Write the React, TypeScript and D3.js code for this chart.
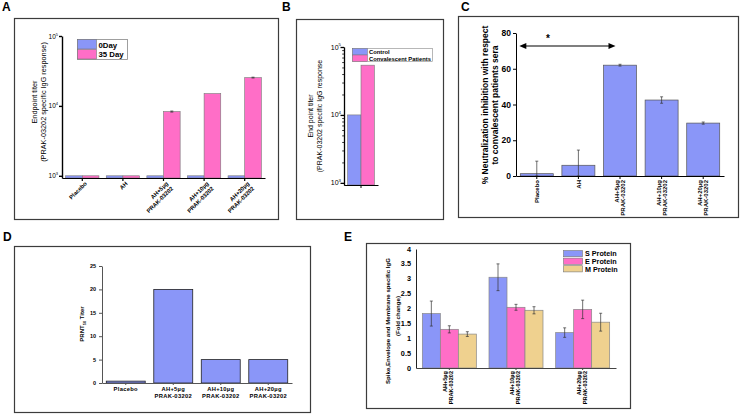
import React, { useEffect, useRef } from 'react';
import * as d3 from 'd3';

// panel A: endpoint titer, day 0 vs day 35
const groupsA = ['Placebo', 'AH', 'AH+5µg|PRAK-03202', 'AH+10µg|PRAK-03202', 'AH+20µg|PRAK-03202'];
const seriesA = ['0Day', '35 Day'];
const day0A = [1000, 1000, 1000, 1000, 1000];
const day35A = [1000, 1000, 8300, 15000, 25400];
const day35ErrA = [0, 0, 150, 0, 350];
const ticksA = [1e3, 1e4, 1e5];

// panel B: control vs convalescent
const groupB = ['PRAK-03202'];
const seriesB = ['Control', 'Convalescent Patients'];
const titerB = [10000, 54000];
const ticksB = [1e3, 1e4, 1e5];

// panel C: % neutralization inhibition
const groupsC = ['Placebo', 'AH', 'AH+5µg|PRAK-03202', 'AH+10µg|PRAK-03202', 'AH+20µg|PRAK-03202'];
const neutC = [1.3, 6, 62, 42.5, 29.6];
const neutErrC = [7, 8.5, 0.5, 1.8, 0.6];
const ticksC = [0, 20, 40, 60, 80];

// panel D: PRNT50 titer
const groupsD = ['Placebo', 'AH+5µg|PRAK-03202', 'AH+10µg|PRAK-03202', 'AH+20µg|PRAK-03202'];
const prntD = [0.4, 20, 5, 5];
const ticksD = [0, 5, 10, 15, 20, 25];

// panel E: S / E / M protein fold change
const groupsE = ['AH+5µg|PRAK-03202', 'AH+10µg|PRAK-03202', 'AH+20µg|PRAK-03202'];
const seriesE = ['S Protein', 'E Protein', 'M Protein'];
const sProtE = [1.83, 3.05, 1.19];
const sErrE = [0.42, 0.45, 0.16];
const eProtE = [1.3, 2.04, 1.97];
const eErrE = [0.12, 0.1, 0.31];
const mProtE = [1.14, 1.94, 1.54];
const mErrE = [0.08, 0.12, 0.3];
const ticksE = [0, 0.5, 1, 1.5, 2, 2.5, 3, 3.5, 4];

const FONT = 'Liberation Sans, Arial, Helvetica, sans-serif';
const BLUE = '#8a96f8';
const PINK = '#ff6ec7';
const TAN = '#efd18f';
const EDGE = '#555';

const App = () => {
  const ref = useRef<SVGSVGElement>(null);

  useEffect(() => {
    const svg = d3.select(ref.current);
    svg.selectAll('*').remove();
    svg.attr('font-family', FONT);

    const frame = (x: number, y: number, w: number, h: number) =>
      svg.append('rect').attr('x', x + 0.5).attr('y', y + 0.5).attr('width', w).attr('height', h)
        .attr('fill', 'none').attr('stroke', '#3c3c3c').attr('stroke-width', 1.2);

    const letter = (t: string, x: number, y: number) =>
      svg.append('text').attr('x', x).attr('y', y).attr('font-size', 12).attr('font-weight', 'bold').text(t);

    const errBar = (x: number, yTop: number, yBot: number, w = 2) => {
      const g = svg.append('g').attr('stroke', '#333').attr('stroke-width', 0.7);
      g.append('line').attr('x1', x).attr('x2', x).attr('y1', yTop).attr('y2', yBot);
      g.append('line').attr('x1', x - w).attr('x2', x + w).attr('y1', yTop).attr('y2', yTop);
      g.append('line').attr('x1', x - w).attr('x2', x + w).attr('y1', yBot).attr('y2', yBot);
    };

    const multiText = (x: number, y: number, angle: number, lines: string[], size: number,
      gap: number, anchor: string, offset: number, weight = 'bold') => {
      const t = svg.append('text').attr('transform', `translate(${x},${y}) rotate(${angle})`)
        .attr('text-anchor', anchor).attr('font-size', size).attr('font-weight', weight);
      lines.forEach((l, i) => t.append('tspan').attr('x', 0).attr('y', offset + i * gap).text(l));
      return t;
    };

    const styleAxis = (g: any, color: string, width: number) => {
      g.selectAll('path,line').attr('stroke', color).attr('stroke-width', width);
      g.selectAll('text').remove();
    };

    const powLabel = (x: number, y: number, v: number, size: number) => {
      const t = svg.append('text').attr('x', x).attr('y', y).attr('text-anchor', 'end')
        .attr('font-size', size).text('10');
      t.append('tspan').attr('dy', -size * 0.45).attr('font-size', size * 0.62).text(String(Math.round(Math.log10(v))));
    };

    // ---------------- A ----------------
    frame(14, 18, 264, 201);
    letter('A', 2, 11);
    const yA = d3.scaleLog().domain([930, 1e5]).range([178, 36]);
    const xA = d3.scaleBand().domain(groupsA).range([62, 265]).paddingInner(0.18).paddingOuter(0.09);
    const sA = d3.scaleBand().domain(seriesA).range([0, xA.bandwidth()]);
    groupsA.forEach((g, i) => {
      [day0A[i], day35A[i]].forEach((v, j) => {
        svg.append('rect').attr('x', xA(g)! + sA(seriesA[j])!).attr('y', yA(v))
          .attr('width', sA.bandwidth()).attr('height', yA(930) - yA(v))
          .attr('fill', j === 0 ? BLUE : PINK).attr('stroke', '#777').attr('stroke-width', 0.6);
      });
      if (day35ErrA[i] > 0) {
        const cx = xA(g)! + sA(seriesA[1])! + sA.bandwidth() / 2;
        errBar(cx, yA(day35A[i] + day35ErrA[i]), yA(day35A[i] - day35ErrA[i]), 1.5);
      }
      multiText(xA(g)! + xA.bandwidth() / 2 + 5, 184, -45, g.split('|'), 5.8, 7, 'end', 0);
    });
    const axYA = svg.append('g').attr('transform', 'translate(62,0)')
      .call(d3.axisLeft(yA).tickValues(ticksA).tickSize(3).tickSizeOuter(0));
    styleAxis(axYA, '#000', 1.4);
    ticksA.forEach(v => powLabel(58, yA(v) + 2.5, v, 6.5));
    const axXA = svg.append('g').attr('transform', 'translate(0,178)')
      .call(d3.axisBottom(xA).tickSize(3).tickSizeOuter(0));
    styleAxis(axXA, '#000', 1.2);
    multiText(37, 102, -90, ['Endpoint titer'], 7.3, 9, 'middle', 0, 'normal');
    multiText(46, 102, -90, ['(PRAK-03202 specific IgG response)'], 7.3, 9, 'middle', 0, 'normal');
    // legend A
    svg.append('rect').attr('x', 77.5).attr('y', 39.5).attr('width', 50).attr('height', 20)
      .attr('fill', '#fff').attr('stroke', '#888').attr('stroke-width', 0.8);
    seriesA.forEach((s, j) => {
      svg.append('rect').attr('x', 77.5).attr('y', 39.5 + j * 10).attr('width', 19).attr('height', 9.5)
        .attr('fill', j === 0 ? BLUE : PINK).attr('stroke', '#777').attr('stroke-width', 0.6);
      svg.append('text').attr('x', 98.5).attr('y', 47.5 + j * 9.8).attr('font-size', 7.8)
        .attr('font-weight', 'bold').text(s);
    });

    // ---------------- B ----------------
    frame(296, 19, 147, 200);
    letter('B', 282, 11);
    const yB = d3.scaleLog().domain([930, 1e5]).range([185, 47]);
    const xB = d3.scaleBand().domain(groupB).range([344, 378]).padding(0.12);
    const sB = d3.scaleBand().domain(seriesB).range([0, xB.bandwidth()]);
    seriesB.forEach((s, j) => {
      svg.append('rect').attr('x', xB(groupB[0])! + sB(s)!).attr('y', yB(titerB[j]))
        .attr('width', sB.bandwidth()).attr('height', yB(930) - yB(titerB[j]))
        .attr('fill', j === 0 ? BLUE : PINK).attr('stroke', '#777').attr('stroke-width', 0.6);
    });
    const minorB = d3.range(2, 10).flatMap(k => [k * 1e3, k * 1e4]);
    const axMinB = svg.append('g').attr('transform', 'translate(344,0)')
      .call(d3.axisLeft(yB).tickValues(minorB).tickSize(1.8).tickSizeOuter(0));
    styleAxis(axMinB, '#000', 0.8);
    const axYB = svg.append('g').attr('transform', 'translate(344,0)')
      .call(d3.axisLeft(yB).tickValues(ticksB).tickSize(3.5).tickSizeOuter(0));
    styleAxis(axYB, '#000', 1.3);
    ticksB.forEach(v => powLabel(341, yB(v) + 2.5, v, 7));
    const axXB = svg.append('g').attr('transform', 'translate(0,185)')
      .call(d3.axisBottom(xB).tickSize(3).tickSizeOuter(0));
    styleAxis(axXB, '#000', 1);
    multiText(313, 116, -90, ['End point titer'], 7, 9, 'middle', 0, 'normal');
    multiText(322, 116, -90, ['(PRAK-03202 specific IgG response'], 7, 9, 'middle', 0, 'normal');
    svg.append('rect').attr('x', 352.5).attr('y', 48.5).attr('width', 80).attr('height', 13)
      .attr('fill', '#fff').attr('stroke', '#888').attr('stroke-width', 0.6);
    seriesB.forEach((s, j) => {
      svg.append('rect').attr('x', 352.5).attr('y', 48.5 + j * 6.5).attr('width', 15).attr('height', 6.5)
        .attr('fill', j === 0 ? BLUE : PINK).attr('stroke', '#777').attr('stroke-width', 0.5);
      svg.append('text').attr('x', 369).attr('y', 54 + j * 6.5).attr('font-size', 5.8)
        .attr('font-weight', 'bold').text(s);
    });

    // ---------------- C ----------------
    frame(458, 16, 280, 201);
    letter('C', 461, 11);
    const yC = d3.scaleLinear().domain([0, 80]).range([176, 33]);
    const xC = d3.scaleBand().domain(groupsC).range([516, 724]).paddingInner(0.207).paddingOuter(0.103);
    groupsC.forEach((g, i) => {
      svg.append('rect').attr('x', xC(g)!).attr('y', yC(neutC[i])).attr('width', xC.bandwidth())
        .attr('height', yC(0) - yC(neutC[i])).attr('fill', BLUE).attr('stroke', EDGE).attr('stroke-width', 0.7);
      const cx = xC(g)! + xC.bandwidth() / 2;
      errBar(cx, yC(neutC[i] + neutErrC[i]), yC(Math.max(0, neutC[i] - neutErrC[i])), 1.5);
      const lines = g.split('|');
      multiText(cx, 180, -90, lines, 6, 6, 'end', -(lines.length - 1) * 3 + 2.1);
    });
    const axYC = svg.append('g').attr('transform', 'translate(516,0)')
      .call(d3.axisLeft(yC).tickValues(ticksC).tickSize(3).tickSizeOuter(0));
    styleAxis(axYC, '#000', 1);
    ticksC.forEach(v => svg.append('text').attr('x', 511).attr('y', yC(v) + 3).attr('text-anchor', 'end')
      .attr('font-size', 8.5).attr('font-weight', 'bold').text(v));
    const axXC = svg.append('g').attr('transform', `translate(0,${yC(0)})`)
      .call(d3.axisBottom(xC).tickSize(3).tickSizeOuter(0));
    styleAxis(axXC, '#000', 1);
    multiText(488, 105, -90, ['% Neutralization inhibition with respect'], 8.5, 9, 'middle', 0);
    multiText(498, 105, -90, ['to convalescent patients sera'], 8.5, 9, 'middle', 0);
    // significance arrow
    const ax1 = xC(groupsC[0])! - 1;
    const ax2 = xC(groupsC[2])! + 12;
    svg.append('line').attr('x1', ax1 + 5).attr('x2', ax2 - 5).attr('y1', 46).attr('y2', 46)
      .attr('stroke', '#000').attr('stroke-width', 1.2);
    svg.append('path').attr('d', `M${ax1},46 l7,-3 l0,6 z`).attr('fill', '#000');
    svg.append('path').attr('d', `M${ax2},46 l-7,-3 l0,6 z`).attr('fill', '#000');
    svg.append('text').attr('x', 548).attr('y', 42).attr('text-anchor', 'middle')
      .attr('font-size', 10).attr('font-weight', 'bold').text('*');

    // ---------------- D ----------------
    frame(14, 246, 296, 166);
    letter('D', 3, 241);
    const yD = d3.scaleLinear().domain([0, 25]).range([383, 266]);
    const xD = d3.scaleBand().domain(groupsD).range([102, 292]).paddingInner(0.18).paddingOuter(0.09);
    groupsD.forEach((g, i) => {
      svg.append('rect').attr('x', xD(g)!).attr('y', yD(prntD[i])).attr('width', xD.bandwidth())
        .attr('height', yD(0) - yD(prntD[i])).attr('fill', BLUE).attr('stroke', '#222').attr('stroke-width', 0.8);
      const cx = xD(g)! + xD.bandwidth() / 2;
      multiText(cx, 391, 0, g.split('|'), 5.8, 7, 'middle', 0).attr('letter-spacing', 0.3);
    });
    const axYD = svg.append('g').attr('transform', 'translate(102,0)')
      .call(d3.axisLeft(yD).tickValues(ticksD).tickSize(3).tickSizeOuter(0));
    styleAxis(axYD, '#555', 1);
    ticksD.forEach(v => svg.append('text').attr('x', 96).attr('y', yD(v) + 2).attr('text-anchor', 'end')
      .attr('font-size', 5.5).attr('font-weight', 'bold').text(v));
    const axXD = svg.append('g').attr('transform', `translate(0,${yD(0)})`)
      .call(d3.axisBottom(xD).tickSize(2).tickSizeOuter(0));
    styleAxis(axXD, '#555', 1);
    const prnt = svg.append('text').attr('transform', 'translate(84,324) rotate(-90)')
      .attr('text-anchor', 'middle').attr('font-size', 6).attr('font-weight', 'bold');
    prnt.append('tspan').text('PRNT');
    prnt.append('tspan').attr('font-size', 4).attr('dy', 1.5).text('50');
    prnt.append('tspan').attr('dy', -1.5).text(' Titer');

    // ---------------- E ----------------
    frame(366, 243, 264, 165);
    letter('E', 344, 241);
    const yE = d3.scaleLinear().domain([0, 4]).range([368, 249]);
    const xE = d3.scaleBand().domain(groupsE).range([416, 616]).paddingInner(0.19).paddingOuter(0.095);
    const sE = d3.scaleBand().domain(seriesE).range([0, xE.bandwidth()]);
    const valsE = [sProtE, eProtE, mProtE];
    const errsE = [sErrE, eErrE, mErrE];
    const colE = [BLUE, PINK, TAN];
    groupsE.forEach((g, i) => {
      seriesE.forEach((s, j) => {
        const v = valsE[j][i];
        svg.append('rect').attr('x', xE(g)! + sE(s)!).attr('y', yE(v)).attr('width', sE.bandwidth())
          .attr('height', yE(0) - yE(v)).attr('fill', colE[j]).attr('stroke', '#888').attr('stroke-width', 0.7);
        errBar(xE(g)! + sE(s)! + sE.bandwidth() / 2, yE(v + errsE[j][i]), yE(v - errsE[j][i]), 1.5);
      });
      const cx = xE(g)! + xE.bandwidth() / 2;
      multiText(cx - 1, 371, -90, g.split('|'), 5.6, 6, 'end', -1);
    });
    const axYE = svg.append('g').attr('transform', 'translate(416,0)')
      .call(d3.axisLeft(yE).tickValues(ticksE).tickSize(0).tickSizeOuter(0));
    styleAxis(axYE, '#222', 1);
    ticksE.forEach(v => svg.append('text').attr('x', 411).attr('y', yE(v) + 2.5).attr('text-anchor', 'end')
      .attr('font-size', 7.3).attr('font-weight', 'bold').text(v));
    const axXE = svg.append('g').attr('transform', `translate(0,${yE(0)})`)
      .call(d3.axisBottom(xE).tickSize(2).tickSizeOuter(0));
    styleAxis(axXE, '#444', 1);
    multiText(389.5, 321, -90, ['Spike,Envelope and Membrane specific IgG'], 6.1, 9, 'middle', 0);
    multiText(399.5, 316, -90, ['(Fold change)'], 6.1, 9, 'middle', 0);
    seriesE.forEach((s, j) => {
      svg.append('rect').attr('x', 563.5).attr('y', 250.5 + j * 7.6).attr('width', 19).attr('height', 6.2)
        .attr('fill', colE[j]).attr('stroke', '#777').attr('stroke-width', 0.6);
      svg.append('text').attr('x', 585).attr('y', 256.3 + j * 7.6).attr('font-size', 7.2)
        .attr('font-weight', 'bold').text(s);
    });
  }, []);

  return (
    <svg ref={ref} width={740} height={414}
      style={{ position: 'absolute', left: 0, top: 0, background: '#fff' }} />
  );
};

export default App;
